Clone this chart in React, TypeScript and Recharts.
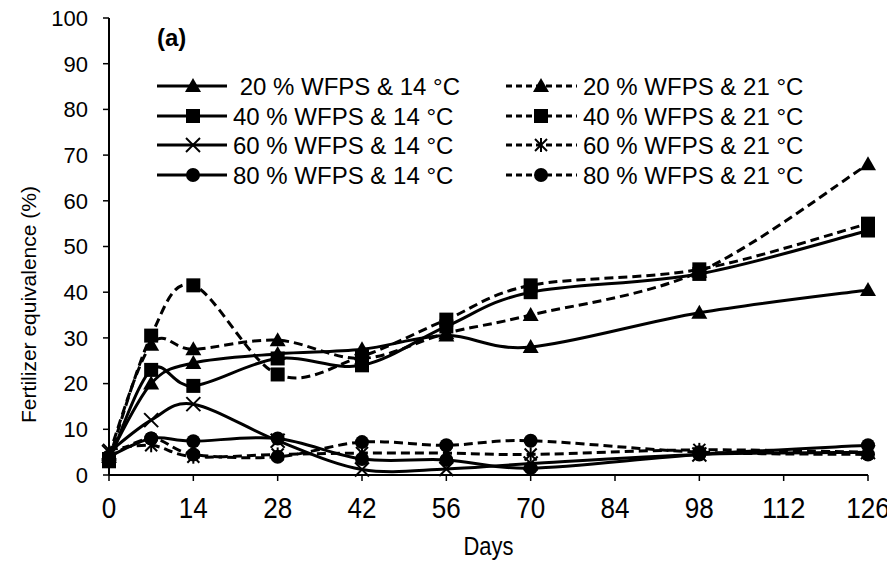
import React from 'react';
import { LineChart, Line, XAxis, YAxis, Legend } from 'recharts';

const days = [0, 7, 14, 28, 42, 56, 70, 98, 126];
const xTicks = [0, 14, 28, 42, 56, 70, 84, 98, 112, 126];
const yTicks = [0, 10, 20, 30, 40, 50, 60, 70, 80, 90, 100];

const w20t14 = [4, 20, 24.5, 26.5, 27.5, 30.5, 28, 35.5, 40.5];
const w20t21 = [4.5, 28.5, 27.5, 29.5, 25.5, 31, 35, 44.5, 68];
const w40t14 = [3, 23, 19.5, 25.5, 24, 32.5, 40, 44, 53.5];
const w40t21 = [3.5, 30.5, 41.5, 22, 26, 34, 41.5, 45, 55];
const w60t14 = [5, 12, 15.5, 7.5, 1.2, 1.3, 2.5, 4.5, 5];
const w60t21 = [5.5, 6.5, 4, 4.5, 4.8, 4.8, 4.5, 5.5, 5];
const w80t14 = [4, 8, 7.4, 8, 3.5, 3.3, 1.5, 4.5, 6.5];
const w80t21 = [4, 8, 4.5, 4, 7.2, 6.5, 7.5, 5, 4.5];

const seriesNames = [
  ' 20 % WFPS & 14 °C',
  '40 % WFPS & 14 °C',
  '60 % WFPS & 14 °C',
  '80 % WFPS & 14 °C',
  '20 % WFPS & 21 °C',
  '40 % WFPS & 21 °C',
  '60 % WFPS & 21 °C',
  '80 % WFPS & 21 °C',
];

type Shape = 'triangle' | 'square' | 'x' | 'star' | 'circle';

const series: { key: string; name: string; values: number[]; shape: Shape; dashed: boolean }[] = [
  { key: 's20_14', name: seriesNames[0], values: w20t14, shape: 'triangle', dashed: false },
  { key: 's40_14', name: seriesNames[1], values: w40t14, shape: 'square', dashed: false },
  { key: 's60_14', name: seriesNames[2], values: w60t14, shape: 'x', dashed: false },
  { key: 's80_14', name: seriesNames[3], values: w80t14, shape: 'circle', dashed: false },
  { key: 's20_21', name: seriesNames[4], values: w20t21, shape: 'triangle', dashed: true },
  { key: 's40_21', name: seriesNames[5], values: w40t21, shape: 'square', dashed: true },
  { key: 's60_21', name: seriesNames[6], values: w60t21, shape: 'star', dashed: true },
  { key: 's80_21', name: seriesNames[7], values: w80t21, shape: 'circle', dashed: true },
];

const rows = days.map((d, i) => {
  const r: Record<string, number> = { day: d };
  series.forEach((s) => {
    r[s.key] = s.values[i];
  });
  return r;
});

const excelCurve = (context: any) => {
  let pts: number[][] = [];
  return {
    areaStart() {},
    areaEnd() {},
    lineStart() {
      pts = [];
    },
    point(x: number, y: number) {
      pts.push([+x, +y]);
    },
    lineEnd() {
      const n = pts.length;
      if (n === 0) return;
      context.moveTo(pts[0][0], pts[0][1]);
      for (let i = 0; i < n - 1; i++) {
        const p0 = pts[i - 1] || pts[i];
        const p1 = pts[i];
        const p2 = pts[i + 1];
        const p3 = pts[i + 2] || p2;
        context.bezierCurveTo(
          p1[0] + (p2[0] - p0[0]) / 6,
          p1[1] + (p2[1] - p0[1]) / 6,
          p2[0] - (p3[0] - p1[0]) / 6,
          p2[1] - (p3[1] - p1[1]) / 6,
          p2[0],
          p2[1]
        );
      }
    },
  };
};

const Marker = ({ shape, cx, cy }: { shape: Shape; cx: number; cy: number }) => {
  if (cx == null || cy == null || isNaN(cx) || isNaN(cy)) return null;
  switch (shape) {
    case 'triangle':
      return <polygon points={`${cx},${cy - 8} ${cx + 8},${cy + 6} ${cx - 8},${cy + 6}`} fill="#000" />;
    case 'square':
      return <rect x={cx - 7} y={cy - 7} width={14} height={14} fill="#000" />;
    case 'circle':
      return <circle cx={cx} cy={cy} r={7} fill="#000" />;
    case 'x':
      return (
        <g stroke="#000" strokeWidth={2}>
          <line x1={cx - 7} y1={cy - 7} x2={cx + 7} y2={cy + 7} />
          <line x1={cx - 7} y1={cy + 7} x2={cx + 7} y2={cy - 7} />
        </g>
      );
    case 'star':
      return (
        <g stroke="#000" strokeWidth={2}>
          <line x1={cx - 6} y1={cy - 6} x2={cx + 6} y2={cy + 6} />
          <line x1={cx - 6} y1={cy + 6} x2={cx + 6} y2={cy - 6} />
          <line x1={cx} y1={cy - 7} x2={cx} y2={cy + 7} />
        </g>
      );
  }
  return null;
};

const FONT = '"Liberation Sans", Arial, sans-serif';

const XTick = (props: any) => {
  const { x, y, payload } = props;
  const label = String(payload.value);
  return (
    <text
      x={x}
      y={y}
      dy="0.71em"
      textAnchor="middle"
      fontFamily={FONT}
      fontSize={29}
      fill="#000"
      textLength={14.5 * label.length}
      lengthAdjust="spacingAndGlyphs"
    >
      {label}
    </text>
  );
};

const LegendBox = () => {
  const rowsY = [86, 116, 145, 175];
  const cols = [
    { x1: 157, x2: 227, mx: 193, tx: 233 },
    { x1: 506, x2: 577, mx: 541, tx: 583 },
  ];
  return (
    <svg width={895} height={200} style={{ pointerEvents: 'none', overflow: 'visible' }}>
      {series.map((s, i) => {
        const col = cols[s.dashed ? 1 : 0];
        const y = rowsY[i % 4];
        return (
          <g key={s.key}>
            <line
              x1={col.x1}
              x2={col.x2}
              y1={y}
              y2={y}
              stroke="#000"
              strokeWidth={3}
              strokeDasharray={s.dashed ? '6 4' : undefined}
            />
            <Marker shape={s.shape} cx={col.mx} cy={y} />
            <text
              x={col.tx}
              y={y}
              dominantBaseline="central"
              fontFamily={FONT}
              fontSize={24}
              fill="#000"
              style={{ whiteSpace: 'pre' }}
            >
              {s.name}
            </text>
          </g>
        );
      })}
      <text x={157} y={37} dominantBaseline="central" fontFamily={FONT} fontWeight="bold" fontSize={24} fill="#000">
        (a)
      </text>
    </svg>
  );
};

export default function App() {
  return (
    <div style={{ margin: '-8px 0 0 -8px', width: 895, height: 562 }}>
      <LineChart width={895} height={562} data={rows} margin={{ top: 18, right: 27, left: 0, bottom: 0 }}>
        <XAxis
          dataKey="day"
          type="number"
          domain={[0, 126]}
          ticks={xTicks}
          interval={0}
          height={87}
          tickSize={6}
          tickMargin={16}
          axisLine={{ stroke: '#000', strokeWidth: 2 }}
          tickLine={{ stroke: '#000', strokeWidth: 1.5 }}
          tick={<XTick />}
          label={(props: any) => {
            const vb = props.viewBox || {};
            return (
              <text
                x={vb.x + vb.width / 2}
                y={vb.y + 71}
                textAnchor="middle"
                dominantBaseline="central"
                fontFamily={FONT}
                fontSize={26}
                fill="#000"
                textLength={50}
                lengthAdjust="spacingAndGlyphs"
              >
                Days
              </text>
            );
          }}
        />
        <YAxis
          type="number"
          domain={[0, 100]}
          ticks={yTicks}
          interval={0}
          width={109}
          tickSize={6}
          tickMargin={15}
          axisLine={{ stroke: '#000', strokeWidth: 2 }}
          tickLine={{ stroke: '#000', strokeWidth: 1.5 }}
          tick={{ fill: '#000', fontSize: 22, fontFamily: FONT }}
          label={(props: any) => {
            const vb = props.viewBox || {};
            const cy = vb.y + vb.height / 2 + 58;
            return (
              <text
                x={28}
                y={cy}
                transform={`rotate(-90 28 ${cy})`}
                textAnchor="middle"
                dominantBaseline="central"
                fontFamily={FONT}
                fontSize={21}
                fill="#000"
              >
                Fertilizer equivalence (%)
              </text>
            );
          }}
        />
        {series.map((s) => (
          <Line
            key={s.key}
            dataKey={s.key}
            name={s.name}
            type={excelCurve as any}
            stroke="#000"
            strokeWidth={3}
            strokeDasharray={s.dashed ? '9 5' : undefined}
            isAnimationActive={false}
            activeDot={false}
            dot={(p: any) => <Marker key={`${s.key}-${p.index}`} shape={s.shape} cx={p.cx} cy={p.cy} />}
          />
        ))}
        <Legend
          layout="horizontal"
          verticalAlign="middle"
          align="center"
          wrapperStyle={{ top: 0, left: 0, width: 895, height: 200 }}
          content={() => <LegendBox />}
        />
      </LineChart>
    </div>
  );
}
